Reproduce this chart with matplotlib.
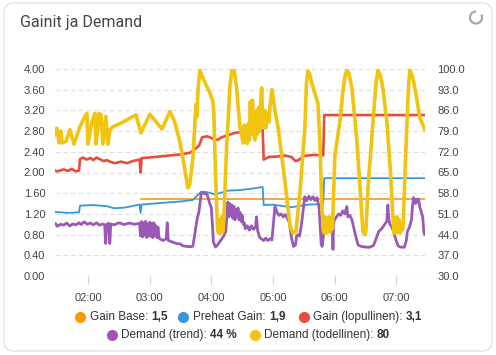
import numpy as np
import matplotlib
matplotlib.use("Agg")
import matplotlib.pyplot as plt
from matplotlib.patches import FancyBboxPatch, Arc
from matplotlib.ticker import FuncFormatter, FixedLocator

# time in minutes after midnight
gain_base_t = [171, 448]
gain_base_v = [1.48, 1.48]

preheat_t = [86, 100, 111, 112, 125, 138, 145, 155, 165, 170, 171, 172, 190, 210, 222, 226, 230,
             236, 243, 248, 256, 268, 280, 290, 291, 300, 310, 318, 325, 335, 349, 350, 448]
preheat_v = [1.24, 1.22, 1.23, 1.36, 1.37, 1.35, 1.31, 1.32, 1.36, 1.38, 1.22, 1.38, 1.41, 1.44,
             1.47, 1.55, 1.63, 1.62, 1.58, 1.60, 1.65, 1.66, 1.69, 1.72, 1.37, 1.38, 1.35, 1.33,
             1.35, 1.38, 1.39, 1.89, 1.89]

gain_t = [86, 90, 96, 100, 104, 108, 111, 112, 115, 118, 122, 125, 128, 131, 135, 138, 141, 146,
          152, 158, 163, 168, 170, 171, 172, 180, 190, 200, 210, 219, 224, 228, 231, 236, 242, 246,
          250, 256, 262, 270, 280, 290, 291, 296, 305, 311, 318, 322, 325, 330, 340, 349, 350, 448]
gain_v = [2.05, 2.02, 2.06, 2.03, 2.07, 2.02, 2.04, 2.26, 2.29, 2.25, 2.28, 2.24, 2.29, 2.26,
          2.22, 2.24, 2.21, 2.18, 2.21, 2.18, 2.22, 2.24, 2.25, 2.00, 2.28, 2.29, 2.31, 2.33,
          2.35, 2.38, 2.45, 2.52, 2.68, 2.70, 2.65, 2.63, 2.68, 2.72, 2.76, 2.79, 2.81, 2.82,
          2.25, 2.30, 2.31, 2.33, 2.30, 2.22, 2.24, 2.32, 2.34, 2.33, 3.11, 3.11]

trend_t = [86, 88, 90, 93, 96, 99, 102, 105, 108, 111,
           113, 116, 119, 122, 125, 128, 131, 134, 136, 137,
           138, 140, 141, 142, 145, 150, 155, 160, 165, 170,
           171, 172, 173, 174, 175, 176, 177, 178, 179, 180,
           181, 182, 183, 184, 185, 186, 187, 188, 189, 190,
           193, 196, 197, 198, 202, 206, 210, 212, 216, 220,
           222, 224, 226, 228, 230, 233, 236, 238, 240, 242,
           244, 246, 248, 250, 252, 254, 256, 257, 258, 259,
           260, 261, 262, 263, 264, 265, 266, 267, 268, 269,
           270, 271, 272, 273, 275, 277, 279, 281, 283, 284,
           285, 287, 289, 291, 293, 295, 297, 299, 300, 302,
           304, 306, 308, 310, 312, 314, 316, 318, 320, 322,
           323, 325, 326, 328, 330, 331, 333, 335, 337, 339,
           341, 343, 345, 346, 347, 348, 349, 350, 351, 352,
           353, 354, 356, 358, 358.5, 359, 360, 362, 364, 366,
           368, 370, 372, 373, 375, 377, 379, 381, 383, 386,
           390, 394, 398, 401, 403, 406, 409, 411, 412, 413,
           414, 416, 418, 420, 422, 424, 428, 430, 431, 433,
           435, 436, 437, 439, 440, 441, 442, 443, 445, 446,
           447, 448]
trend_v = [47.0, 47.8, 46.8, 47.5, 47.2, 47.9, 46.9, 47.6, 47.3, 48.0,
           47.4, 48.3, 47.5, 47.9, 47.3, 48.0, 47.2, 47.6, 47.3, 41.0,
           47.5, 47.8, 41.0, 47.6, 47.3, 48.0, 47.4, 47.9, 47.5, 47.8,
           43.5, 48.4, 43.2, 48.0, 43.8, 48.5, 43.0, 47.6, 43.5, 48.2,
           43.4, 47.8, 43.0, 48.0, 43.6, 47.0, 43.0, 46.5, 42.8, 42.5,
           42.0, 42.6, 48.0, 42.0, 41.5, 41.0, 40.8, 40.2, 40.0, 39.9,
           40.1, 44.5, 49.0, 52.0, 57.8, 58.0, 57.5, 55.0, 53.0, 41.5,
           39.8, 40.5, 41.5, 42.5, 43.5, 45.0, 55.0, 50.0, 54.5, 50.5,
           54.0, 49.5, 53.5, 49.0, 52.5, 50.0, 53.0, 49.0, 51.5, 48.5,
           50.5, 47.5, 48.0, 46.0, 47.0, 45.5, 47.0, 45.8, 46.5, 50.0,
           45.5, 43.0, 42.5, 42.0, 42.8, 42.0, 42.6, 42.2, 46.0, 53.5,
           51.5, 50.5, 51.0, 50.0, 50.8, 49.5, 48.0, 43.0, 40.0, 40.5,
           43.5, 44.0, 43.5, 48.0, 54.0, 56.8, 55.5, 57.0, 55.8, 56.8,
           55.5, 56.5, 53.0, 47.0, 41.0, 40.0, 43.0, 47.5, 45.0, 48.0,
           46.0, 47.5, 46.5, 47.0, 39.0, 47.5, 49.0, 50.0, 51.0, 50.5,
           52.0, 51.0, 53.5, 50.0, 50.5, 49.0, 46.0, 43.0, 40.5, 40.0,
           39.8, 39.7, 40.3, 43.0, 45.0, 46.0, 47.5, 48.5, 54.0, 49.0,
           47.5, 46.5, 44.5, 42.0, 40.2, 39.8, 39.7, 42.0, 45.0, 46.5,
           49.0, 53.5, 56.5, 54.5, 56.0, 55.0, 56.0, 53.5, 51.0, 50.0,
           45.0, 44.0]

demand_t = [85.6, 87.6, 89.5, 91.5, 93.4, 94.4, 98.3, 102.2, 106.1, 111.9,
            116.8, 118.7, 119.7, 123.6, 126.5, 127.5, 129.4, 130.4, 132.4, 134.3,
            137.2, 139.2, 141.1, 144.1, 150.9, 166.5, 171.3, 180.1, 191.8, 199.6,
            204.4, 209.3, 214.2, 217.1, 219, 222, 225, 226, 227, 228.8,
            231.7, 235.6, 238.5, 241.5, 242.4, 243.4, 245, 246, 247, 248,
            249, 250, 251, 252, 253.1, 255, 256.1, 258, 260, 261.9,
            262.9, 264.8, 265.8, 267.8, 269.8, 271, 272, 273, 274, 275,
            276, 277, 278, 279, 280, 281, 282.4, 284, 285, 286,
            287, 288, 289, 290.2, 292, 293, 294, 296, 297, 299,
            300, 301.9, 304.9, 311.7, 316.6, 319.5, 322.4, 326.3, 331.2, 332.6,
            334.1, 335.8, 338, 343.9, 345.8, 347.8, 349.7, 350, 351, 352,
            353, 354, 355, 356, 357, 358, 360.4, 365.3, 368, 370.2,
            372.1, 374, 377, 381.9, 384.8, 387.7, 389.7, 390.6, 392.6, 397.5,
            400.4, 402.4, 404.5, 407.2, 411.1, 414.1, 417, 418, 419, 420,
            421, 422, 423, 424, 425, 426, 427, 428.7, 431.6, 432.6,
            433.6, 435.5, 438.4, 443.3, 448.2]
demand_v = [75.5, 79.5, 80.0, 75.0, 79.0, 75.0, 75.5, 79.5, 74.6, 80.5,
            84.0, 85.0, 74.6, 82.2, 85.0, 74.6, 80.0, 85.0, 84.5, 74.6,
            84.0, 74.6, 79.4, 80.5, 81.5, 84.5, 78.4, 84.7, 79.7, 85.6,
            82.0, 75.4, 66.0, 59.8, 61.0, 70.0, 88.0, 84.0, 93.0, 99.5,
            97.0, 94.0, 92.0, 89.0, 85.0, 72.0, 55.0, 46.0, 44.5, 49.0,
            44.5, 50.0, 45.0, 48.5, 58.0, 75.0, 81.0, 94.0, 99.5, 100.0,
            98.0, 93.0, 88.5, 80.5, 77.0, 75.0, 81.0, 75.5, 80.0, 74.8,
            81.5, 76.0, 89.0, 78.0, 89.5, 80.0, 76.0, 86.0, 78.0, 87.0,
            79.0, 88.0, 93.6, 80.5, 86.0, 80.0, 85.0, 82.0, 87.0, 93.0,
            91.0, 86.0, 80.5, 62.0, 47.0, 44.5, 45.0, 58.0, 80.5, 95.0,
            99.3, 98.5, 95.0, 88.4, 75.0, 52.0, 46.0, 44.5, 50.0, 44.5,
            49.5, 45.0, 50.0, 44.8, 48.0, 46.0, 71.0, 82.2, 92.0, 97.5,
            99.7, 98.5, 93.5, 75.4, 60.0, 45.0, 44.0, 45.0, 59.8, 82.0,
            95.0, 99.7, 98.0, 93.5, 82.0, 67.5, 49.6, 44.5, 49.5, 44.5,
            50.0, 44.8, 49.0, 44.5, 48.0, 45.5, 47.0, 65.3, 90.0, 96.5,
            99.7, 98.0, 93.5, 83.4, 79.5]

left_ticks = [0.0, 0.4, 0.8, 1.2, 1.6, 2.0, 2.4, 2.8, 3.2, 3.6, 4.0]
right_ticks = [30, 37, 44, 51, 58, 65, 72, 79, 86, 93, 100]
hour_ticks = [120, 180, 240, 300, 360, 420]

legend_rows = [
    [("Gain Base: ", "1,5", "#ff9800", 80, 90),
     ("Preheat Gain: ", "1,9", "#3498db", 183, 193),
     ("Gain (lopullinen): ", "3,1", "#e74c3c", 304, 313)],
    [("Demand (trend): ", "44 %", "#9b59b6", 112, 121),
     ("Demand (todellinen): ", "80", "#f1c40f", 255, 264)],
]

W, H = 496, 355
fig = plt.figure(figsize=(W / 100, H / 100), dpi=100)

# card background in pixel coords
bg = fig.add_axes([0, 0, 1, 1])
bg.set_xlim(0, W)
bg.set_ylim(H, 0)
bg.axis("off")
bg.add_patch(FancyBboxPatch((4, 3), W - 8, H - 7, boxstyle="round,pad=0,rounding_size=10",
                            facecolor="white", edgecolor="#e3e3e3", lw=1.0))
bg.add_patch(Arc((476, 17.5), 12, 12, theta1=330, theta2=630, color="#a8a8a8", lw=1.6))
bg.text(20, 22, "Gainit ja Demand", fontsize=11.5, family="Roboto", color="#454545",
        va="center", ha="left")

ax = fig.add_axes([55 / W, 1 - 276 / H, 370 / W, 207 / H])
ax.patch.set_alpha(0)
ax.set_xlim(87.6, 448.2)
ax.set_ylim(0, 4)
for s in ax.spines.values():
    s.set_visible(False)
ax.yaxis.set_major_locator(FixedLocator(left_ticks))
ax.yaxis.set_major_formatter(FuncFormatter(lambda v, p: f"{v:.2f}"))
ax.xaxis.set_major_locator(FixedLocator(hour_ticks))
ax.xaxis.set_major_formatter(FuncFormatter(lambda m, p: f"{int(m // 60):02d}:{int(m % 60):02d}"))
ax.grid(axis="y", color="#dedede", linestyle=(0, (4, 3)), lw=0.8)
ax.tick_params(axis="y", length=0, pad=7, labelsize=8, labelcolor="#444444")
ax.tick_params(axis="x", length=6, width=0.8, color="#d0d0d0", pad=6, labelsize=8,
               labelcolor="#444444")
for lab in ax.get_xticklabels() + ax.get_yticklabels():
    lab.set_family("Liberation Sans")

ax.plot(gain_base_t, gain_base_v, color="#f39c12", lw=1.2, zorder=3)
ax.plot(preheat_t, preheat_v, color="#3498db", lw=1.3, zorder=4)
ax.plot(gain_t, gain_v, color="#e74c3c", lw=1.9, zorder=5)

ax2 = ax.twinx()
ax2.patch.set_alpha(0)
ax2.set_ylim(30, 100)
for s in ax2.spines.values():
    s.set_visible(False)
ax2.yaxis.set_major_locator(FixedLocator(right_ticks))
ax2.yaxis.set_major_formatter(FuncFormatter(lambda v, p: f"{v:.1f}"))
ax2.tick_params(axis="y", length=0, pad=9, labelsize=8, labelcolor="#444444")
for lab in ax2.get_yticklabels():
    lab.set_family("Liberation Sans")
ax2.plot(trend_t, trend_v, color="#9b59b6", lw=2.0, zorder=6)
ax2.plot(demand_t, demand_v, color="#f1c40f", lw=2.6, zorder=7, solid_joinstyle="round")

# legend
for row, ypix in zip(legend_rows, [317, 335]):
    for label, val, col, xdot, xtxt in row:
        bg.plot(xdot, ypix, "o", ms=8, color=col, mec="none")
        t = bg.text(xtxt, ypix, label, fontsize=8.5, family="Liberation Sans",
                    color="#333333", va="center", ha="left")
        bg.annotate(val, xy=(1, 0), xycoords=t, va="bottom", ha="left", fontsize=8.5,
                    family="Liberation Sans", fontweight="bold", color="#333333")

fig.savefig("out.png", dpi=100)
